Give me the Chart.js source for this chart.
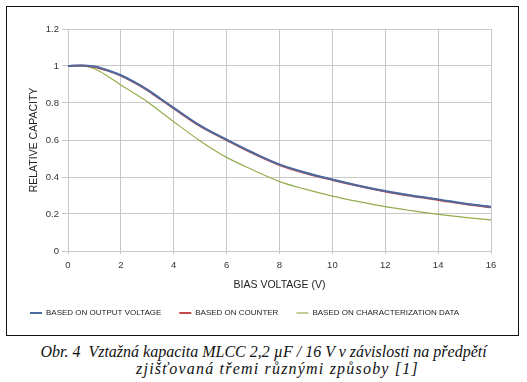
<!DOCTYPE html>
<html><head><meta charset="utf-8">
<script src="https://cdn.jsdelivr.net/npm/chart.js@4.4.1/dist/chart.umd.min.js"></script>
<style>
html,body{margin:0;padding:0;background:#fff;width:527px;height:382px;overflow:hidden;}
#frame{position:absolute;left:6px;top:6px;width:511px;height:328px;border:1.5px solid #111;}
#wrap{position:absolute;left:0;top:0;width:511px;height:328px;}
#cap{position:absolute;left:0;top:344px;width:527px;text-align:center;font-family:"Liberation Serif","Times New Roman",serif;font-style:italic;font-size:16px;line-height:16.5px;color:#111;}
#cap .l2{letter-spacing:1.2px;position:relative;left:14px;}
</style></head>
<body>
<div id="frame"><div id="wrap"><canvas id="c"></canvas></div></div>
<div id="cap"><span>Obr. 4&nbsp; Vztažná kapacita MLCC 2,2 µF / 16 V v závislosti na předpětí</span><br><span class="l2">zjišťovaná třemi různými způsoby [1]</span></div>
<script>
const biasVoltage = [0,0.5,1,1.5,2,2.5,3,3.5,4,5,6,7,8,9,10,11,12,13,14,15,16];
const outputVoltage = [1.0,1.003,0.997,0.977,0.950,0.914,0.872,0.823,0.774,0.678,0.602,0.531,0.468,0.423,0.386,0.353,0.324,0.300,0.279,0.257,0.239];
const counter = [1.0,1.003,0.995,0.975,0.948,0.912,0.870,0.820,0.771,0.675,0.600,0.528,0.465,0.420,0.384,0.351,0.321,0.297,0.276,0.254,0.236];
const characterization = [1.0,1.0,0.985,0.945,0.897,0.853,0.807,0.753,0.699,0.595,0.506,0.438,0.375,0.333,0.297,0.267,0.240,0.218,0.198,0.182,0.168];
const seriesNames = ["BASED ON OUTPUT VOLTAGE","BASED ON COUNTER","BASED ON CHARACTERIZATION DATA"];
const xTicks = [0,2,4,6,8,10,12,14,16];
const yTicks = [0,0.2,0.4,0.6,0.8,1,1.2];

const pts = arr => biasVoltage.map((x,i)=>({x:x,y:arr[i]}));
const ff = '"Liberation Sans",Arial,sans-serif';

new Chart(document.getElementById('c'), {
  type:'line',
  data:{datasets:[
    {label:seriesNames[0],data:pts(outputVoltage),borderColor:'#4a6aa0',backgroundColor:'#4a6aa0',borderWidth:2,pointRadius:0,cubicInterpolationMode:'monotone',order:0},
    {label:seriesNames[1],data:pts(counter),borderColor:'#c24a4a',backgroundColor:'#c24a4a',borderWidth:2,pointRadius:0,cubicInterpolationMode:'monotone',order:1},
    {label:seriesNames[2],data:pts(characterization),borderColor:'#93ad4e',backgroundColor:'#93ad4e',borderWidth:1.2,pointRadius:0,cubicInterpolationMode:'monotone',order:2}
  ]},
  options:{
    responsive:true,maintainAspectRatio:false,animation:false,
    layout:{padding:{left:5,right:27,top:22,bottom:8}},
    plugins:{
      tooltip:{enabled:false},
      legend:{position:'bottom',align:'start',
        labels:{usePointStyle:true,pointStyle:'line',pointStyleWidth:12,boxHeight:8,padding:18,color:'#222',
          font:{family:ff,size:8}}}
    },
    scales:{
      x:{type:'linear',min:0,max:16,
        afterBuildTicks:s=>{s.ticks=xTicks.map(v=>({value:v}));},
        afterFit:s=>{s.height=40;},
        grid:{color:'#c8c8c8',lineWidth:1,tickLength:3},
        border:{display:false},
        ticks:{padding:6,color:'#333',font:{family:ff,size:9.5}},
        title:{display:true,text:'BIAS VOLTAGE (V)',color:'#222',font:{family:ff,size:10.5},padding:{top:6,bottom:0}}
      },
      y:{min:0,max:1.2,
        afterBuildTicks:s=>{s.ticks=yTicks.map(v=>({value:v}));},
        afterFit:s=>{s.width=56;},
        grid:{color:'#c8c8c8',lineWidth:1,tickLength:6},
        border:{display:false},
        ticks:{padding:3,color:'#333',font:{family:ff,size:9.5},callback:v=>String(v)},
        title:{display:true,text:'RELATIVE CAPACITY',color:'#222',font:{family:ff,size:10.5},padding:{top:16,bottom:4}}
      }
    }
  }
});
</script>
</body></html>
